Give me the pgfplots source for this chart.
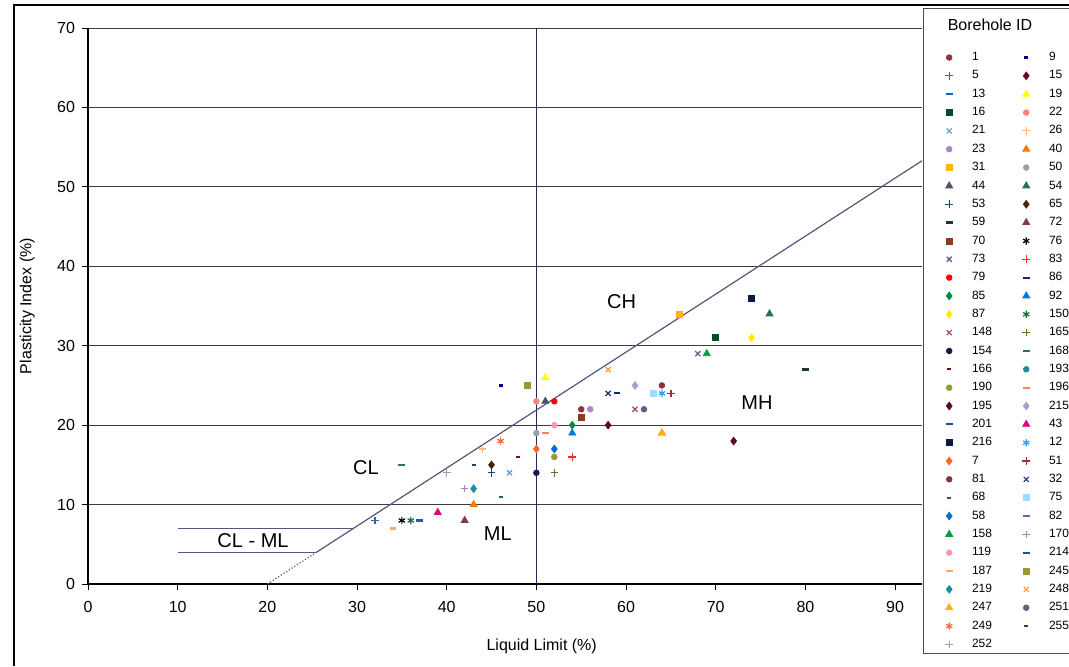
\documentclass[border=0pt]{standalone}
\usepackage{fontspec}
\setmainfont{Liberation Sans}
\usepackage{pgfplots}
\pgfplotsset{compat=1.18}

\definecolor{gridc}{RGB}{60,60,60}
\definecolor{aline}{RGB}{85,85,125}
\definecolor{vline}{RGB}{40,40,90}

\pgfplotsset{
  cir/.style={only marks, mark=*, mark size=1.4pt},
  sqr/.style={only marks, mark=square*, mark size=1.5pt},
  tri/.style={only marks, mark=triangle*, mark size=2pt},
  dia/.style={only marks, mark=diamond*, mark size=1.9pt},
  crs/.style={only marks, mark=x, mark size=1.8pt, line width=0.6pt},
  pls/.style={only marks, mark=+, mark size=1.9pt, line width=0.6pt},
  ast/.style={only marks, mark=asterisk, mark size=1.8pt, line width=0.6pt},
  dsh/.style={only marks, mark=-, mark size=1.7pt, line width=1.1pt},
  dsm/.style={only marks, mark=-, mark size=1pt, line width=1.1pt},
}
% one series: style, r, g, b, points, borehole id
\newcommand{\ser}[6]{\addplot[#1, color={rgb,255:red,#2;green,#3;blue,#4}] coordinates {#5}; \addlegendentry{#6}}
\newcommand{\emp}[5]{\addlegendimage{#1, color={rgb,255:red,#2;green,#3;blue,#4}} \addlegendentry{#5}}

\begin{document}
\begin{tikzpicture}
\path[use as bounding box] (0,0) rectangle (534.5pt,333pt);
\fill[white] (0,0) rectangle (534.5pt,333pt);
\draw[black, line width=0.6pt] (7pt,0) -- (7pt,330.5pt) -- (540pt,330.5pt);
\draw[black!70, line width=0.5pt] (540pt,6.5pt) -- (461.5pt,6.5pt) -- (461.5pt,328.5pt) -- (540pt,328.5pt);
\node[font=\fontsize{8}{9}\selectfont] at (495pt,320.5pt) {Borehole ID};
\begin{axis}[
  at={(44pt,41pt)}, anchor=south west,
  scale only axis, width=417pt, height=278pt,
  xmin=0, xmax=93, ymin=0, ymax=70,
  axis lines=left, axis line style={-, black, line width=0.6pt},
  xtick={0,10,...,90}, ytick={0,10,...,70},
  tick align=outside, major tick length=3pt,
  tick style={black, line width=0.5pt},
  ymajorgrids, grid style={gridc, line width=0.5pt},
  ticklabel style={font=\fontsize{8}{9}\selectfont},
  xticklabel style={yshift=-2pt},
  /pgf/number format/assume math mode=true,
  xlabel={Liquid Limit (\%)}, ylabel={Plasticity Index (\%)},
  label style={font=\fontsize{8}{9}\selectfont},
  xlabel style={at={(axis description cs:0.544,-0.113)}, anchor=center},
  ylabel style={at={(axis description cs:-0.073,0.5)}, anchor=center},
  legend columns=2, legend cell align=left,
  legend style={at={(axis description cs:1.0276,0.9586)}, anchor=north west,
    draw=none, fill=none, font=\fontsize{6}{7}\selectfont, inner sep=0pt,
    row sep=3.07pt, nodes={inner sep=0pt, text height=4.6pt, text depth=1.5pt},
    /tikz/every odd column/.append style={column sep=9.5pt},
    /tikz/every even column/.append style={column sep=15.2pt}},
  legend image code/.code={\draw[mark repeat=2,mark phase=2,#1] plot coordinates {(0pt,0pt)(4pt,0pt)(8pt,0pt)};},
]
% classification lines
\addplot[forget plot, vline, line width=0.6pt] coordinates {(50,0) (50,70)};
\addplot[forget plot, aline, line width=0.6pt] coordinates {(25.48,4) (93,53.29)};
\addplot[forget plot, aline, line width=0.6pt, densely dotted] coordinates {(20,0) (25.48,4)};
\addplot[forget plot, aline, line width=0.5pt] coordinates {(10,4) (25.48,4)};
\addplot[forget plot, aline, line width=0.5pt] coordinates {(10,7) (29.59,7)};

\ser{cir}{153}{51}{51}{(55,22)}{1}
\ser{dsm}{0}{0}{128}{(46,25)}{9}
\ser{pls}{51}{102}{153}{(32,8)}{5}
\ser{dia}{102}{0}{51}{(72,18)}{15}
\ser{dsh}{0}{102}{204}{(37,8)}{13}
\ser{tri}{255}{255}{0}{(51,26)}{19}
\ser{sqr}{0}{77}{38}{(70,31)}{16}
\ser{cir}{255}{128}{128}{(50,23)}{22}
\ser{crs}{102}{153}{204}{(47,14)}{21}
\ser{pls}{255}{180}{130}{(44,17)}{26}
\ser{cir}{180}{130}{200}{(56,22)}{23}
\ser{tri}{255}{120}{0}{(43,10) (64,19)}{40}
\ser{sqr}{255}{180}{0}{(66,34)}{31}
\ser{cir}{160}{160}{160}{(50,19)}{50}
\ser{tri}{80}{80}{110}{(51,23)}{44}
\ser{tri}{40}{110}{90}{(76,34)}{54}
\ser{pls}{30}{70}{110}{(45,14)}{53}
\ser{dia}{60}{40}{20}{(45,15)}{65}
\ser{dsh}{30}{60}{40}{(80,27)}{59}
\ser{tri}{130}{60}{70}{(42,8)}{72}
\ser{sqr}{140}{60}{30}{(55,21)}{70}
\ser{ast}{0}{0}{0}{(35,8)}{76}
\ser{crs}{90}{90}{130}{(68,29)}{73}
\ser{pls}{255}{40}{40}{(54,16)}{83}
\ser{cir}{255}{0}{0}{(52,23)}{79}
\ser{dsh}{20}{40}{120}{(59,24)}{86}
\ser{dia}{0}{140}{60}{(54,20)}{85}
\ser{tri}{0}{120}{220}{(54,19)}{92}
\ser{dia}{255}{235}{0}{(74,31)}{87}
\ser{ast}{30}{110}{60}{(36,8)}{150}
\ser{crs}{160}{80}{80}{(61,22)}{148}
\ser{pls}{128}{96}{48}{(52,14)}{165}
\ser{cir}{26}{26}{80}{(50,14)}{154}
\ser{dsh}{47}{111}{111}{(35,15)}{168}
\ser{dsm}{128}{0}{64}{(48,16)}{166}
\emp{cir}{32}{136}{160}{193}
\ser{cir}{153}{153}{51}{(52,16)}{190}
\ser{dsh}{255}{128}{96}{(51,19)}{196}
\ser{dia}{102}{0}{51}{(58,20)}{195}
\ser{dia}{160}{160}{210}{(61,25)}{215}
\emp{dsh}{31}{79}{143}{201}
\ser{tri}{224}{0}{127}{(39,9)}{43}
\ser{sqr}{10}{26}{64}{(74,36)}{216}
\ser{ast}{51}{153}{255}{(64,24)}{12}
\ser{dia}{255}{102}{32}{(50,17)}{7}
\ser{pls}{139}{58}{58}{(65,24)}{51}
\ser{cir}{136}{51}{68}{(64,25)}{81}
\ser{crs}{32}{48}{112}{(58,24)}{32}
\ser{dsm}{31}{95}{95}{(46,11)}{68}
\ser{sqr}{153}{221}{255}{(63,24)}{75}
\ser{dia}{0}{112}{208}{(52,17)}{58}
\emp{dsh}{102}{102}{170}{82}
\ser{tri}{0}{160}{64}{(69,29)}{158}
\ser{pls}{176}{128}{192}{(42,12)}{170}
\ser{cir}{255}{153}{170}{(52,20)}{119}
\emp{dsh}{32}{80}{160}{214}
\ser{dsh}{255}{170}{102}{(34,7)}{187}
\ser{sqr}{153}{153}{51}{(49,25)}{245}
\ser{dia}{26}{138}{160}{(43,12)}{219}
\ser{crs}{255}{153}{51}{(58,27)}{248}
\ser{tri}{255}{176}{0}{(64,19)}{247}
\ser{cir}{96}{96}{128}{(62,22)}{251}
\ser{ast}{255}{102}{51}{(46,18)}{249}
\ser{dsm}{31}{63}{112}{(43,15)}{255}
\ser{pls}{160}{160}{160}{(40,14)}{252}

\node[font=\fontsize{10}{12}\selectfont] at (axis cs:59.5,35.6) {CH};
\node[font=\fontsize{10}{12}\selectfont] at (axis cs:74.6,22.8) {MH};
\node[font=\fontsize{10}{12}\selectfont] at (axis cs:31,14.7) {CL};
\node[font=\fontsize{10}{12}\selectfont] at (axis cs:45.7,6.3) {ML};
\node[font=\fontsize{10}{12}\selectfont] at (axis cs:18.4,5.5) {CL - ML};
\end{axis}
\end{tikzpicture}
\end{document}
